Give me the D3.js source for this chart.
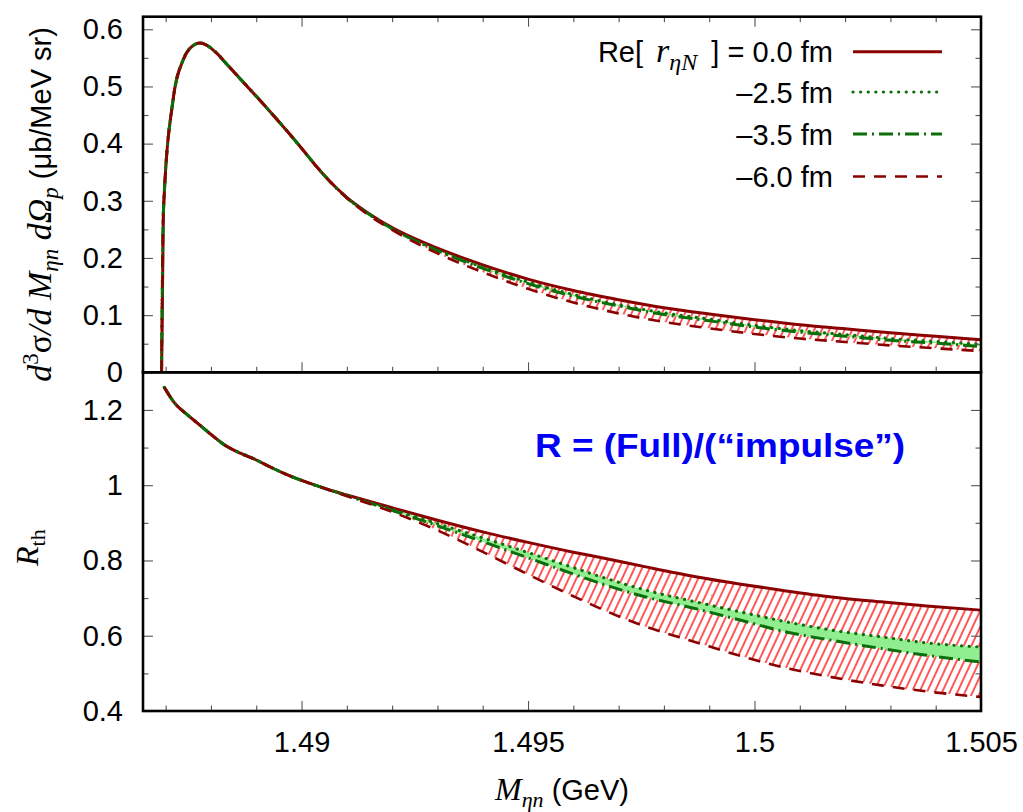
<!DOCTYPE html>
<html><head><meta charset="utf-8">
<script src="https://cdn.jsdelivr.net/npm/d3@7/dist/d3.min.js"></script>
<style>body{margin:0;background:#fff}svg{display:block}</style>
</head><body>
<svg id="chart" width="1023" height="812"></svg>
<script>
// ---------------- data ----------------
const xTop = [1.48691,1.48695,1.48717,1.48739,1.48754,1.48776,1.48795,1.48813,1.48835,1.48857,1.48880,1.48908,1.48935,1.48967,1.49000,1.49033,1.4906,1.491,1.4915,1.492,1.493,1.494,1.495,1.496,1.497,1.498,1.499,1.500,1.501,1.502,1.503,1.504,1.505];
const sig00 = [0,0.28,0.48,0.547,0.567,0.576,0.570,0.558,0.539,0.520,0.500,0.476,0.452,0.423,0.392,0.360,0.336,0.306,0.277,0.253,0.217,0.188,0.163,0.143,0.127,0.113,0.102,0.092,0.083,0.076,0.069,0.063,0.057];
const sig25 = [0,0.28,0.48,0.547,0.567,0.576,0.570,0.558,0.539,0.520,0.500,0.476,0.452,0.423,0.392,0.360,0.336,0.305,0.276,0.251,0.214,0.184,0.158,0.136,0.118,0.104,0.093,0.082,0.073,0.066,0.059,0.054,0.049];
const sig35 = [0,0.28,0.48,0.547,0.567,0.576,0.570,0.558,0.539,0.520,0.500,0.476,0.452,0.423,0.392,0.360,0.336,0.305,0.276,0.251,0.213,0.182,0.155,0.133,0.116,0.101,0.090,0.079,0.070,0.063,0.056,0.051,0.045];
const sig60 = [0,0.28,0.48,0.547,0.567,0.576,0.570,0.558,0.539,0.520,0.500,0.476,0.452,0.423,0.392,0.360,0.336,0.305,0.274,0.249,0.208,0.175,0.146,0.122,0.103,0.088,0.077,0.067,0.059,0.053,0.047,0.042,0.037];

const xRat = [1.48697,1.4872,1.48745,1.4877,1.488,1.4883,1.48865,1.489,1.4893,1.4896,1.4903,1.4906,1.491,1.492,1.493,1.494,1.495,1.496,1.4966,1.4976,1.4987,1.4997,1.5007,1.5017,1.5028,1.5038,1.505];
const rat00 = [1.26,1.218,1.19,1.165,1.135,1.107,1.085,1.067,1.049,1.032,1.000,0.988,0.974,0.940,0.907,0.876,0.848,0.822,0.808,0.783,0.757,0.737,0.719,0.703,0.690,0.679,0.668];
const rat25 = [1.26,1.218,1.19,1.165,1.135,1.107,1.085,1.067,1.049,1.032,1.000,0.988,0.973,0.936,0.898,0.860,0.821,0.781,0.757,0.721,0.690,0.663,0.637,0.615,0.597,0.581,0.570];
const rat35 = [1.26,1.218,1.19,1.165,1.135,1.107,1.085,1.067,1.049,1.032,1.000,0.988,0.972,0.933,0.892,0.850,0.807,0.764,0.739,0.703,0.672,0.641,0.610,0.588,0.566,0.548,0.530];
const rat60 = [1.26,1.218,1.19,1.165,1.135,1.107,1.085,1.067,1.049,1.032,1.000,0.988,0.971,0.929,0.880,0.823,0.763,0.705,0.672,0.624,0.583,0.546,0.514,0.490,0.468,0.452,0.437];

const xMajor = [1.49,1.495,1.5,1.505];
const xMajorLabels = ["1.49","1.495","1.5","1.505"];
const xMinor = [1.487,1.488,1.489,1.491,1.492,1.493,1.494,1.496,1.497,1.498,1.499,1.501,1.502,1.503,1.504];
const yTopMajor = [0,0.1,0.2,0.3,0.4,0.5,0.6];
const yTopLabels = ["0","0.1","0.2","0.3","0.4","0.5","0.6"];
const yTopMinor = [0.05,0.15,0.25,0.35,0.45,0.55];
const yBotMajor = [0.4,0.6,0.8,1.0,1.2];
const yBotLabels = ["0.4","0.6","0.8","1","1.2"];
const yBotMinor = [0.5,0.7,0.9,1.1];
const legendLabels = ["0.0 fm","\u20132.5 fm","\u20133.5 fm","\u20136.0 fm"];

// ---------------- layout ----------------
const SANS = "'Liberation Sans', Arial, Helvetica, sans-serif";
const SERIF = "'Liberation Serif', 'Times New Roman', serif";
const L = 143, R = 981, T1 = 16.7, B1 = 372.3, B2 = 711;
const svg = d3.select("#chart");
const x = d3.scaleLinear().domain([1.4865, 1.505]).range([L, R]);
const yT = d3.scaleLinear().domain([0, 0.622]).range([B1, T1]);
const yB = d3.scaleLinear().domain([0.4, 1.3]).range([B2, B1]);

const RED = "#8b0000", GREEN = "#0a6e0a", LGREEN = "#90ee90", HATCH = "#ff0000";

const defs = svg.append("defs");
defs.append("clipPath").attr("id", "clipT").append("rect").attr("x", L).attr("y", T1).attr("width", R - L).attr("height", B1 - T1);
defs.append("clipPath").attr("id", "clipB").append("rect").attr("x", L).attr("y", B1).attr("width", R - L).attr("height", B2 - B1);
const pat = defs.append("pattern").attr("id", "hatch").attr("patternUnits", "userSpaceOnUse")
  .attr("width", 6.9).attr("height", 20).attr("patternTransform", "rotate(25)");
pat.append("line").attr("x1", 1).attr("y1", 0).attr("x2", 1).attr("y2", 20).attr("stroke", HATCH).attr("stroke-width", 1.3);

const styles = [
  {c: RED, w: 3, d: null, cap: "butt"},
  {c: GREEN, w: 3.2, d: "0.1,7.5", cap: "round"},
  {c: GREEN, w: 3, d: "14,5,2,5", cap: "butt"},
  {c: RED, w: 2.6, d: "12,9", cap: "butt"}
];

function drawPanel(clipId, xs, s0, s25, s35, s60, yS) {
  const g = svg.append("g").attr("clip-path", `url(#${clipId})`);
  const idx = d3.range(xs.length);
  const areaH = d3.area().x(i => x(xs[i])).y0(i => yS(s60[i])).y1(i => yS(s0[i])).curve(d3.curveMonotoneX);
  const areaG = d3.area().x(i => x(xs[i])).y0(i => yS(s35[i])).y1(i => yS(s25[i])).curve(d3.curveMonotoneX);
  g.append("path").attr("d", areaH(idx)).attr("fill", "url(#hatch)");
  g.append("path").attr("d", areaG(idx)).attr("fill", LGREEN);
  [s0, s25, s35, s60].forEach((s, k) => {
    const line = d3.line().x(i => x(xs[i])).y(i => yS(s[i])).curve(d3.curveMonotoneX);
    const p = g.append("path").attr("d", line(idx)).attr("fill", "none")
      .attr("stroke", styles[k].c).attr("stroke-width", styles[k].w).attr("stroke-linecap", styles[k].cap)
      .attr("stroke-linejoin", "round");
    if (styles[k].d) p.attr("stroke-dasharray", styles[k].d);
  });
}
drawPanel("clipT", xTop, sig00, sig25, sig35, sig60, yT);
drawPanel("clipB", xRat, rat00, rat25, rat35, rat60, yB);

// ---------------- axes ----------------
function axisG(axis, tx, ty) {
  const g = svg.append("g").attr("transform", `translate(${tx},${ty})`).call(axis);
  g.select(".domain").remove();
  g.selectAll(".tick line").attr("stroke", "#555").attr("stroke-width", 1.1);
  g.attr("font-family", SANS).attr("font-size", 29).attr("fill", "#000");
  g.selectAll("text").attr("fill", "#000");
  return g;
}
const MAJ = 10, MIN = 5.5;
// top panel
axisG(d3.axisLeft(yT).tickValues(yTopMajor).tickSize(-MAJ).tickPadding(20).tickFormat((d, i) => yTopLabels[i]), L, 0);
axisG(d3.axisLeft(yT).tickValues(yTopMinor).tickSize(-MIN).tickFormat(""), L, 0);
axisG(d3.axisRight(yT).tickValues(yTopMajor).tickSize(-MAJ).tickFormat(""), R, 0);
axisG(d3.axisRight(yT).tickValues(yTopMinor).tickSize(-MIN).tickFormat(""), R, 0);
axisG(d3.axisTop(x).tickValues(xMajor).tickSize(-MAJ).tickFormat(""), 0, T1);
axisG(d3.axisTop(x).tickValues(xMinor).tickSize(-MIN).tickFormat(""), 0, T1);
axisG(d3.axisBottom(x).tickValues(xMajor).tickSize(-MAJ).tickFormat(""), 0, B1);
axisG(d3.axisBottom(x).tickValues(xMinor).tickSize(-MIN).tickFormat(""), 0, B1);
// bottom panel
axisG(d3.axisLeft(yB).tickValues(yBotMajor).tickSize(-MAJ).tickPadding(20).tickFormat((d, i) => yBotLabels[i]), L, 0);
axisG(d3.axisLeft(yB).tickValues(yBotMinor).tickSize(-MIN).tickFormat(""), L, 0);
axisG(d3.axisRight(yB).tickValues(yBotMajor).tickSize(-MAJ).tickFormat(""), R, 0);
axisG(d3.axisRight(yB).tickValues(yBotMinor).tickSize(-MIN).tickFormat(""), R, 0);
axisG(d3.axisBottom(x).tickValues(xMajor).tickSize(-MAJ).tickPadding(20).tickFormat((d, i) => xMajorLabels[i]), 0, B2);
axisG(d3.axisBottom(x).tickValues(xMinor).tickSize(-MIN).tickFormat(""), 0, B2);

// frames
svg.append("rect").attr("x", L).attr("y", T1).attr("width", R - L).attr("height", B1 - T1)
  .attr("fill", "none").attr("stroke", "#000").attr("stroke-width", 2.6);
svg.append("rect").attr("x", L).attr("y", B1).attr("width", R - L).attr("height", B2 - B1)
  .attr("fill", "none").attr("stroke", "#000").attr("stroke-width", 2.6);

// ---------------- legend ----------------
const legRows = [51.7, 92, 134, 176.5];
const leg = svg.append("g");
legRows.forEach((cy, k) => {
  const t = leg.append("text").attr("x", 833).attr("y", cy + 10.5).attr("text-anchor", "end")
    .attr("font-family", SANS).attr("font-size", 29).attr("fill", "#000").attr("xml:space", "preserve");
  if (k === 0) {
    t.append("tspan").text("Re[ ");
    t.append("tspan").attr("font-family", SERIF).attr("font-style", "italic").attr("font-size", 34).attr("dx", 5).text("r");
    t.append("tspan").attr("font-family", SERIF).attr("font-style", "italic").attr("font-size", 24).attr("dy", 8).text("\u03B7N");
    t.append("tspan").attr("dy", -8).attr("dx", 6).text(" ] = " + legendLabels[0]);
  } else {
    t.text(legendLabels[k]);
  }
  const p = leg.append("line").attr("x1", 853).attr("x2", 942).attr("y1", cy).attr("y2", cy)
    .attr("stroke", styles[k].c).attr("stroke-width", styles[k].w).attr("stroke-linecap", styles[k].cap);
  if (styles[k].d) p.attr("stroke-dasharray", styles[k].d);
});

// ---------------- annotation ----------------
svg.append("text").attr("x", 535).attr("y", 457).attr("font-family", SANS).attr("font-weight", "bold")
  .attr("font-size", 33).attr("fill", "#0000f5").attr("textLength", 370).attr("lengthAdjust", "spacingAndGlyphs")
  .text("R = (Full)/(\u201Cimpulse\u201D)");

// ---------------- axis titles ----------------
const xt = svg.append("text").attr("x", (L + R) / 2).attr("y", 800).attr("text-anchor", "middle")
  .attr("font-size", 29).attr("fill", "#000");
xt.append("tspan").attr("font-family", SERIF).attr("font-style", "italic").attr("font-size", 32).text("M");
xt.append("tspan").attr("font-family", SERIF).attr("font-style", "italic").attr("font-size", 22).attr("dy", 7).text("\u03B7n");
xt.append("tspan").attr("font-family", SANS).attr("dy", -7).text(" (GeV)");

const yt = svg.append("text").attr("transform", `translate(51,${(T1 + B1) / 2 + 10}) rotate(-90)`)
  .attr("text-anchor", "middle").attr("font-size", 30).attr("fill", "#000");
const MF = 34, SF = 23;
yt.append("tspan").attr("font-family", SERIF).attr("font-style", "italic").attr("font-size", MF).text("d");
yt.append("tspan").attr("font-family", SERIF).attr("font-size", SF).attr("dy", -13).text("3");
yt.append("tspan").attr("font-family", SERIF).attr("font-size", MF).attr("dy", 13).text("\u03C3");
yt.append("tspan").attr("font-family", SERIF).attr("font-style", "italic").attr("font-size", MF).text("/d M");
yt.append("tspan").attr("font-family", SERIF).attr("font-style", "italic").attr("font-size", SF).attr("dy", 7).text("\u03B7n");
yt.append("tspan").attr("font-family", SERIF).attr("font-style", "italic").attr("font-size", MF).attr("dy", -7).text(" d\u03A9");
yt.append("tspan").attr("font-family", SERIF).attr("font-style", "italic").attr("font-size", SF).attr("dy", 7).text("p");
yt.append("tspan").attr("font-family", SANS).attr("font-size", 29).attr("dy", -7).text(" (\u03BCb/MeV sr)");

const rt = svg.append("text").attr("transform", `translate(38,${(B1 + B2) / 2 + 6}) rotate(-90)`)
  .attr("text-anchor", "middle").attr("fill", "#000");
rt.append("tspan").attr("font-family", SERIF).attr("font-style", "italic").attr("font-size", 32).text("R");
rt.append("tspan").attr("font-family", SERIF).attr("font-size", 22).attr("dy", 7).text("th");
</script>
</body></html>
